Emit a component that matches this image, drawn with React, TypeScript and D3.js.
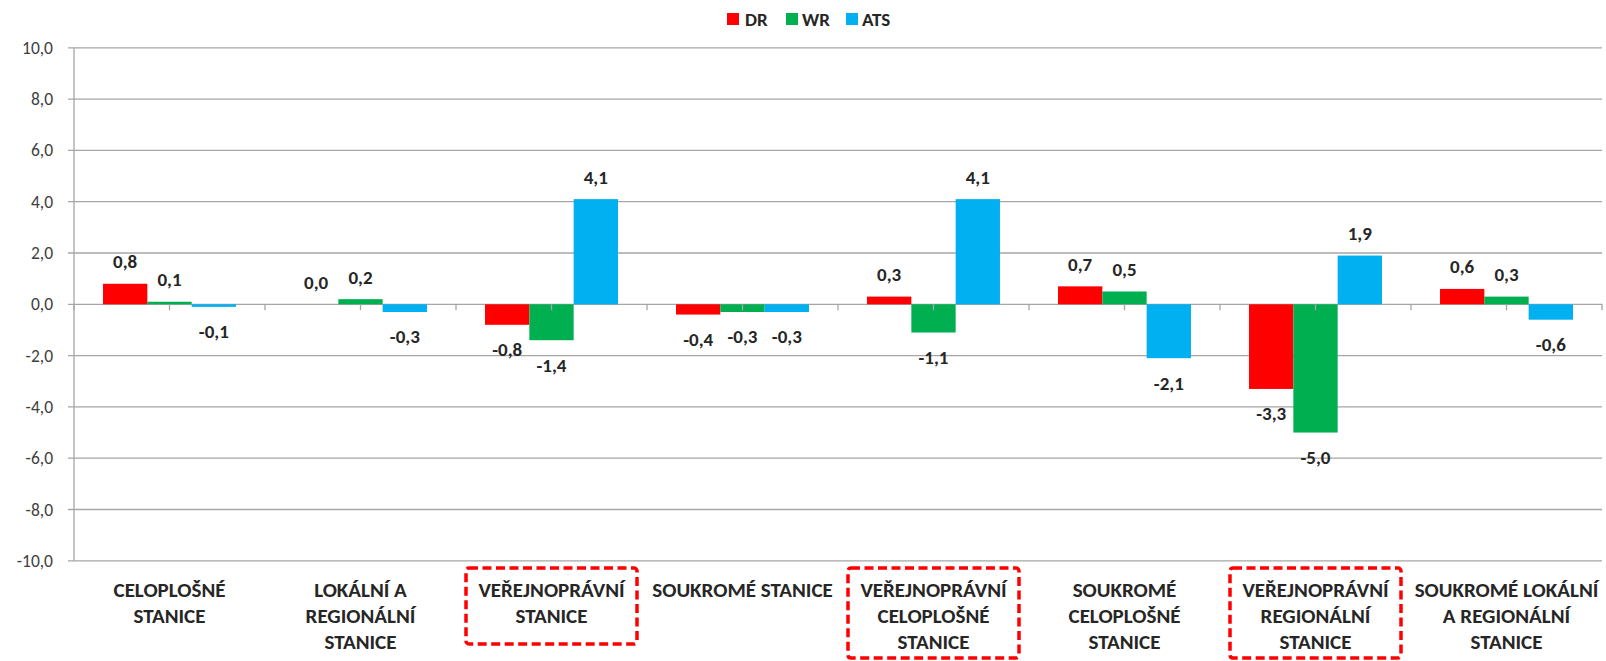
import * as d3 from "d3";
import { useEffect } from "react";

// chart data
const categories = [
  ["CELOPLOŠNÉ", "STANICE"],
  ["LOKÁLNÍ A", "REGIONÁLNÍ", "STANICE"],
  ["VEŘEJNOPRÁVNÍ", "STANICE"],
  ["SOUKROMÉ STANICE"],
  ["VEŘEJNOPRÁVNÍ", "CELOPLOŠNÉ", "STANICE"],
  ["SOUKROMÉ", "CELOPLOŠNÉ", "STANICE"],
  ["VEŘEJNOPRÁVNÍ", "REGIONÁLNÍ", "STANICE"],
  ["SOUKROMÉ LOKÁLNÍ", "A REGIONÁLNÍ", "STANICE"],
];
const highlighted = [2, 4, 6];

const seriesNames = ["DR", "WR", "ATS"];
const seriesColors = ["#ff0000", "#00b050", "#00b0f0"];
const drValues = [0.8, 0.0, -0.8, -0.4, 0.3, 0.7, -3.3, 0.6];
const wrValues = [0.1, 0.2, -1.4, -0.3, -1.1, 0.5, -5.0, 0.3];
const atsValues = [-0.1, -0.3, 4.1, -0.3, 4.1, -2.1, 1.9, -0.6];
const yTicks = [-10, -8, -6, -4, -2, 0, 2, 4, 6, 8, 10];

const W = 1606;
const H = 661;
const FONT = "Carlito, Calibri, Lato, sans-serif";

const fmt = (v: number) => d3.format(".1f")(v).replace(".", ",").replace("−", "-");

export default function App() {
  useEffect(() => {
    document.body.style.margin = "0";
  }, []);

  const plot = { left: 74, right: 1602, top: 47.8, bottom: 560.8 };
  const series = [drValues, wrValues, atsValues];

  const x = d3
    .scaleBand<number>()
    .domain(categories.map((_, i) => i))
    .range([plot.left, plot.right]);
  // gap width ~130% of a bar, like Excel's default
  const xInner = d3
    .scaleBand<number>()
    .domain(seriesNames.map((_, i) => i))
    .range([0, x.bandwidth()])
    .paddingOuter(0.655)
    .paddingInner(0);
  const y = d3.scaleLinear().domain([-10, 10]).range([plot.bottom, plot.top]);
  const y0 = y(0);

  const tickXs: number[] = [];
  categories.forEach((_, i) => {
    tickXs.push(x(i)!, x(i)! + x.bandwidth() / 2);
  });
  tickXs.push(plot.right);

  const legendX = [727, 786, 846];
  const legendTextX = [745, 802, 862];

  return (
    <svg width={W} height={H} style={{ display: "block", background: "#fff" }} fontFamily={FONT}>
      {/* grid */}
      {yTicks.map((t) => (
        <g key={t}>
          <line x1={plot.left - 6} x2={plot.right} y1={y(t)} y2={y(t)} stroke="#a6a6a6" strokeWidth={1.3} />
          <text x={plot.left - 21} y={y(t)} textAnchor="end" dominantBaseline="central" fontSize={17.5} fill="#404040">
            {fmt(t)}
          </text>
        </g>
      ))}
      <line x1={plot.left} x2={plot.left} y1={plot.top} y2={plot.bottom} stroke="#a6a6a6" strokeWidth={1.3} />

      {/* bars */}
      {series.map((vals, s) =>
        vals.map((v, i) => (
          <rect
            key={s + "-" + i}
            x={x(i)! + xInner(s)!}
            width={xInner.bandwidth()}
            y={Math.min(y(v), y0)}
            height={Math.abs(y(v) - y0)}
            fill={seriesColors[s]}
          />
        ))
      )}

      {/* category axis */}
      {tickXs.map((tx, i) => (
        <line key={i} x1={tx} x2={tx} y1={y0} y2={y0 + 6} stroke="#a6a6a6" strokeWidth={1.3} />
      ))}

      {/* data labels */}
      {series.map((vals, s) =>
        vals.map((v, i) => (
          <text
            key={"l" + s + "-" + i}
            x={x(i)! + xInner(s)! + xInner.bandwidth() / 2}
            y={v >= 0 ? y(v) - 22 : y(v) + 25}
            textAnchor="middle"
            dominantBaseline="central"
            fontSize={19}
            fontWeight="bold"
            fill="#262626"
          >
            {fmt(v)}
          </text>
        ))
      )}

      {/* category labels */}
      {categories.map((lines, i) => (
        <text
          key={"c" + i}
          x={x(i)! + x.bandwidth() / 2}
          y={590}
          textAnchor="middle"
          fontSize={21}
          fontWeight="bold"
          fill="#262626"
        >
          {lines.map((ln, j) => (
            <tspan key={j} x={x(i)! + x.bandwidth() / 2} y={590 + j * 26} dominantBaseline="central">
              {ln}
            </tspan>
          ))}
        </text>
      ))}

      {/* highlight boxes */}
      {highlighted.map((i) => (
        <rect
          key={"h" + i}
          x={x(i)! + 10}
          y={568}
          width={x.bandwidth() - 20}
          height={Math.min(24 + categories[i].length * 26, H - 568 - 3)}
          fill="none"
          stroke="#ff0000"
          strokeWidth={3.5}
          strokeDasharray="9 4.5"
          rx={3}
        />
      ))}

      {/* legend */}
      {seriesNames.map((name, s) => (
        <g key={name}>
          <rect x={legendX[s]} y={13} width={12} height={12} fill={seriesColors[s]} />
          <text x={legendTextX[s]} y={19} dominantBaseline="central" fontSize={19} fontWeight="bold" fill="#262626">
            {name}
          </text>
        </g>
      ))}
    </svg>
  );
}
